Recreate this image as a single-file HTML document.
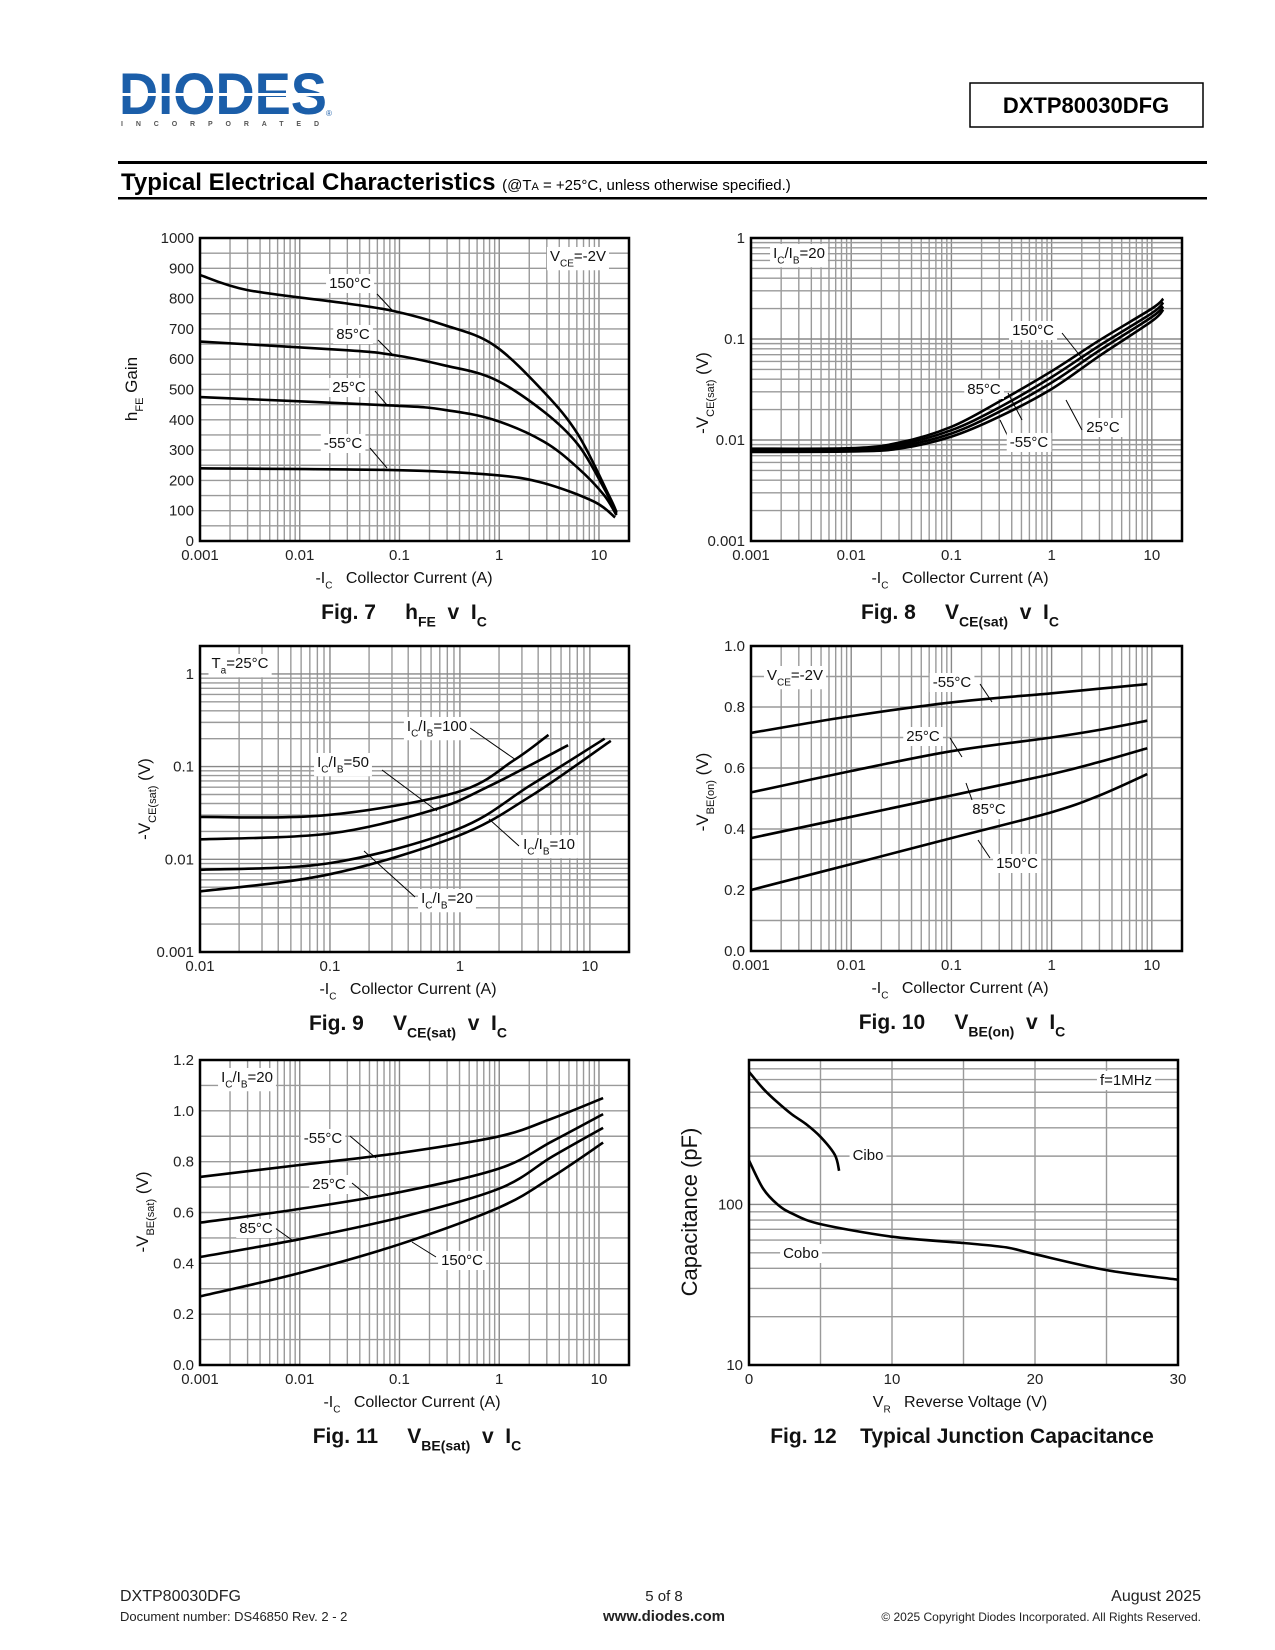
<!DOCTYPE html>
<html><head><meta charset="utf-8"><title>DXTP80030DFG Typical Electrical Characteristics</title>
<style>
html,body{margin:0;padding:0;background:#fff;}
svg{display:block;font-family:"Liberation Sans",Arial,sans-serif;}
text{white-space:pre;}
</style></head>
<body>
<svg id="page" width="1275" height="1650" viewBox="0 0 1275 1650" xmlns="http://www.w3.org/2000/svg">
  <g>
    <text x="119" y="114" font-size="58" font-weight="bold" fill="#1b5ea9" textLength="208" lengthAdjust="spacingAndGlyphs">DIODES</text>
    <rect x="118" y="93" width="212" height="3" fill="#fff"/>
    <text x="326" y="116" font-size="8" fill="#1b5ea9">®</text>
    <text x="121" y="126" font-size="7" font-weight="bold" fill="#555" textLength="198" lengthAdjust="spacing">INCORPORATED</text>
  </g>
  <g>
    <rect x="970" y="83" width="233" height="44" fill="none" stroke="#000" stroke-width="1.5"/>
    <text x="1086" y="113" font-size="22" font-weight="bold" text-anchor="middle">DXTP80030DFG</text>
  </g>
  <rect x="118" y="161" width="1089" height="3" fill="#000"/>
  <text x="121" y="190" font-size="24" font-weight="bold">Typical Electrical Characteristics <tspan font-size="15" font-weight="normal">(@T<tspan font-size="11">A</tspan> = +25°C, unless otherwise specified.)</tspan></text>
  <rect x="118" y="197" width="1089" height="2.5" fill="#000"/>
  <g id="charts"></g>
  <g fill="#222">
    <text x="120" y="1601" font-size="16">DXTP80030DFG</text>
    <text x="120" y="1621" font-size="13">Document number: DS46850 Rev. 2 - 2</text>
    <text x="664" y="1601" font-size="15" text-anchor="middle">5 of 8</text>
    <text x="664" y="1621" font-size="15" font-weight="bold" text-anchor="middle">www.diodes.com</text>
    <text x="1201" y="1601" font-size="16" text-anchor="end">August 2025</text>
    <text x="1201" y="1621" font-size="12" text-anchor="end">© 2025 Copyright Diodes Incorporated. All Rights Reserved.</text>
  </g>
</svg>
<script>
// ---------- Fig 7 data (hFE) ----------
const f7X150=[0.001,0.003,0.028,0.087,0.28,0.88,2.8,6.2,12.6,15];
const f7Y150=[878,828,785,759,713,647,492,350,150,95];
const f7X85=[0.001,0.028,0.087,0.28,0.88,2.8,6.2,11.2,15];
const f7Y85=[658,630,614,580,535,427,317,175,90];
const f7X25=[0.001,0.087,0.28,0.88,2.8,6.2,11.2,15];
const f7Y25=[475,447,433,400,328,240,152,85];
const f7X55=[0.001,0.087,0.88,2.8,8.9,14.5];
const f7Y55=[240,234,218,191,130,78];
// ---------- Fig 8 data (VCE(sat), IC/IB=20) ----------
const f8X=[0.001,0.01,0.03,0.1,0.3,1,3,10,13];
const f8Y150=[0.0082,0.0083,0.0094,0.0135,0.024,0.048,0.097,0.20,0.25];
const f8Y85=[0.0080,0.0081,0.0090,0.0125,0.021,0.042,0.086,0.18,0.23];
const f8Y25=[0.0078,0.0079,0.0086,0.0116,0.019,0.037,0.077,0.165,0.21];
const f8Y55=[0.0076,0.0077,0.0082,0.0108,0.017,0.032,0.068,0.15,0.195];
// ---------- Fig 9 data ----------
const f9X100=[0.01,0.095,0.95,2.6,4.8];
const f9Y100=[0.0286,0.030,0.053,0.117,0.22];
const f9X50=[0.01,0.1,0.62,1.7,6.8];
const f9Y50=[0.0164,0.019,0.034,0.062,0.17];
const f9X10=[0.01,0.1,0.95,3.5,13];
const f9Y10=[0.0077,0.0091,0.021,0.063,0.20];
const f9X20=[0.01,0.1,0.95,3.5,14.5];
const f9Y20=[0.0045,0.0069,0.0177,0.048,0.19];
// ---------- Fig 10 data (VBE(on)) ----------
const f10X=[0.001,0.01,0.1,1,3,9];
const f10Y55=[0.715,0.77,0.815,0.845,0.86,0.875];
const f10Y25=[0.52,0.59,0.655,0.70,0.725,0.755];
const f10Y85=[0.37,0.44,0.51,0.58,0.62,0.665];
const f10Y150=[0.20,0.285,0.37,0.455,0.51,0.58];
// ---------- Fig 11 data (VBE(sat)) ----------
const f11X=[0.001,0.01,0.1,1,3.4,11];
const f11Y55=[0.74,0.787,0.834,0.90,0.97,1.05];
const f11Y25=[0.56,0.614,0.68,0.773,0.88,0.987];
const f11Y85=[0.425,0.495,0.58,0.694,0.82,0.933];
const f11Y150=[0.27,0.362,0.475,0.62,0.74,0.875];
// ---------- Fig 12 data (capacitance) ----------
const f12XCobo=[0,1,2,3,5,10,15,18,20,25,30];
const f12YCobo=[188,125,100,88,75.5,63,57.5,54,49,39,34];
const f12XCibo=[0,1,2,3,4,5,6,6.3];
const f12YCibo=[670,525,432,364,316,264,204,162];
// ---------- tick labels ----------
const ticksDecadeA=["0.001","0.01","0.1","1","10"];
const ticksDecadeA9=["0.01","0.1","1","10"];
const ticksHfe=[0,100,200,300,400,500,600,700,800,900,1000];
const ticksLogV=["0.001","0.01","0.1","1"];
const ticksV10=["0.0","0.2","0.4","0.6","0.8","1.0"];
const ticksV11=["0.0","0.2","0.4","0.6","0.8","1.0","1.2"];
const ticksVr=[0,10,20,30];
const ticksCap=["10","100"];

const NS="http://www.w3.org/2000/svg";
const root=document.getElementById('charts');
function mk(tag,attrs,parent){const e=document.createElementNS(NS,tag);for(const k in attrs)e.setAttribute(k,attrs[k]);parent.appendChild(e);return e;}
function scale(ax){
  if(ax.type==='log'){const a=Math.log10(ax.min),b=Math.log10(ax.max);return v=>ax.p0+(Math.log10(v)-a)/(b-a)*(ax.p1-ax.p0);}
  return v=>ax.p0+(v-ax.min)/(ax.max-ax.min)*(ax.p1-ax.p0);
}
function gridVals(ax,step){
  const out=[];
  if(ax.type==='log'){
    for(let d=Math.floor(Math.log10(ax.min));d<=Math.ceil(Math.log10(ax.max));d++){
      for(let m=1;m<=9;m++){const v=m*Math.pow(10,d);if(v>ax.min*1.0001&&v<ax.max*0.9999)out.push([v,m===1]);}
    }
  } else {
    for(let v=ax.min+step;v<ax.max-1e-9;v+=step)out.push([v,false]);
  }
  return out;
}
function smoothPath(pts){
  let d='M'+pts[0][0].toFixed(1)+','+pts[0][1].toFixed(1);
  for(let i=0;i<pts.length-1;i++){
    const p0=pts[i-1]||pts[i],p1=pts[i],p2=pts[i+1],p3=pts[i+2]||p2;
    const c1=[p1[0]+(p2[0]-p0[0])/6,p1[1]+(p2[1]-p0[1])/6];
    const c2=[p2[0]-(p3[0]-p1[0])/6,p2[1]-(p3[1]-p1[1])/6];
    d+=' C'+c1[0].toFixed(1)+','+c1[1].toFixed(1)+' '+c2[0].toFixed(1)+','+c2[1].toFixed(1)+' '+p2[0].toFixed(1)+','+p2[1].toFixed(1);
  }
  return d;
}
function richText(parts,x,y,size,parent,anchor,bold,rotate){
  const t=mk('text',{x:x,y:y,'font-size':size,fill:'#111','text-anchor':anchor||'start'},parent);
  t.setAttribute('xml:space','preserve');
  if(bold)t.setAttribute('font-weight','bold');
  if(rotate)t.setAttribute('transform','rotate(-90 '+x+' '+y+')');
  parts.forEach(p=>{
    const s=document.createElementNS(NS,'tspan');
    if(typeof p==='string'){s.textContent=p;}
    else{s.textContent=p.sub;s.setAttribute('font-size',Math.round(size*0.65));s.setAttribute('dy',size*0.35);}
    t.appendChild(s);
    if(typeof p!=='string'){const r=document.createElementNS(NS,'tspan');r.setAttribute('dy',-size*0.35);r.textContent='\u200B';t.appendChild(r);}
  });
  return t;
}
function chart(cfg){
  const g=mk('g',{},root);
  
  
  const sx=scale(cfg.x),sy=scale(cfg.y);
  const gg=mk('g',{stroke:'#9a9a9a','stroke-width':1.4},g);
  
  
  gridVals(cfg.x,cfg.xstep).forEach(([v,maj])=>{
    const l=mk('line',{x1:sx(v),x2:sx(v),y1:cfg.y.p1,y2:cfg.y.p0,stroke:maj?'#888':'#9a9a9a'},gg);
    
    
  });
  gridVals(cfg.y,cfg.ystep).forEach(([v,maj])=>{
    const l=mk('line',{x1:cfg.x.p0,x2:cfg.x.p1,y1:sy(v),y2:sy(v),stroke:maj?'#888':'#9a9a9a'},gg);
    
    
  });
  cfg.xticks.forEach(t=>{
    const e=mk('text',{x:sx(+t),y:cfg.y.p0+19,'font-size':15,'text-anchor':'middle',fill:'#222'},g);
    e.textContent=t;
    
    
  });
  cfg.yticks.forEach(t=>{
    const e=mk('text',{x:cfg.x.p0-6,y:sy(+t)+5,'font-size':15,'text-anchor':'end',fill:'#222'},g);
    e.textContent=t;
    
    
  });
  (cfg.leaders||[]).forEach(L=>{
    const l=mk('line',{x1:L[0],y1:L[1],x2:L[2],y2:L[3],stroke:'#000','stroke-width':1},g);
    
    
  });
  cfg.series.forEach(s=>{
    const pts=s.x.map((v,i)=>[sx(v),sy(s.y[i])]);
    const p=mk('path',{d:smoothPath(pts),fill:'none',stroke:'#000','stroke-width':2.6,'stroke-linejoin':'round'},g);
    
    
  });
  (cfg.labels||[]).forEach(L=>{
    const t=richText(L.parts,L.x,L.y,15,g,'middle');
    const bb=t.getBBox();
    const r=document.createElementNS(NS,'rect');
    r.setAttribute('x',bb.x-3);r.setAttribute('y',bb.y-1);r.setAttribute('width',bb.width+6);r.setAttribute('height',bb.height+2);r.setAttribute('fill','#fff');
    g.insertBefore(r,t);
    
    
    
    
  });
  const fr=mk('rect',{x:cfg.x.p0,y:cfg.y.p1,width:cfg.x.p1-cfg.x.p0,height:cfg.y.p0-cfg.y.p1,fill:'none',stroke:'#000','stroke-width':2.5},g);
  
  
  const xt=richText(cfg.xtitle,cfg.cx,cfg.y.p0+42,16,g,'middle');
  
  
  const yt=richText(cfg.ytitle,cfg.ytx,cfg.yty,cfg.ytsize||17,g,'middle',false,true);
  
  
  const cp=richText(cfg.caption,cfg.capx,cfg.y.p0+78,21,g,'middle',true);
  
  
}
const icTitle=['-I',{sub:'C'},'   Collector Current (A)'];

chart({name:'fig7-hfe-chart',x:{type:'log',min:0.001,max:20,p0:200,p1:629},y:{type:'lin',min:0,max:1000,p0:541,p1:238},ystep:50,
  xticks:ticksDecadeA,yticks:ticksHfe,cx:404,xtitle:icTitle,ytx:137,yty:389,ytitle:['h',{sub:'FE'},' Gain'],capx:404,caption:['Fig. 7     h',{sub:'FE'},'  v  I',{sub:'C'}],
  series:[{name:'curve-150c',x:f7X150,y:f7Y150},{name:'curve-85c',x:f7X85,y:f7Y85},{name:'curve-25c',x:f7X25,y:f7Y25},{name:'curve-minus55c',x:f7X55,y:f7Y55}],
  leaders:[[377,294,392,310],[378,340,392,354],[375,391,387,405],[370,448,387,468]],
  labels:[{name:'label-150c',parts:['150°C'],x:350,y:288},{name:'label-85c',parts:['85°C'],x:353,y:339},{name:'label-25c',parts:['25°C'],x:349,y:392},{name:'label-minus55c',parts:['-55°C'],x:343,y:448},{name:'label-vce',parts:['V',{sub:'CE'},'=-2V'],x:578,y:261}]});

chart({name:'fig8-vcesat-chart',x:{type:'log',min:0.001,max:20,p0:751,p1:1182},y:{type:'log',min:0.001,max:1,p0:541,p1:238},
  xticks:ticksDecadeA,yticks:ticksLogV,cx:960,xtitle:icTitle,ytx:708,yty:393,ytitle:['-V',{sub:'CE(sat)'},' (V)'],capx:960,caption:['Fig. 8     V',{sub:'CE(sat)'},'  v  I',{sub:'C'}],
  series:[{name:'curve-150c',x:f8X,y:f8Y150},{name:'curve-85c',x:f8X,y:f8Y85},{name:'curve-25c',x:f8X,y:f8Y25},{name:'curve-minus55c',x:f8X,y:f8Y55}],
  leaders:[[1062,333,1085,362],[1008,393,1022,420],[1082,430,1066,400],[1012,445,1000,420]],
  labels:[{name:'label-150c',parts:['150°C'],x:1033,y:335},{name:'label-85c',parts:['85°C'],x:984,y:394},{name:'label-25c',parts:['25°C'],x:1103,y:432},{name:'label-minus55c',parts:['-55°C'],x:1029,y:447},{name:'label-ic-ib',parts:['I',{sub:'C'},'/I',{sub:'B'},'=20'],x:799,y:258}]});

chart({name:'fig9-vcesat-ratio-chart',x:{type:'log',min:0.01,max:20,p0:200,p1:629},y:{type:'log',min:0.001,max:2,p0:952,p1:646},
  xticks:ticksDecadeA9,yticks:ticksLogV,cx:408,xtitle:icTitle,ytx:150,yty:799,ytitle:['-V',{sub:'CE(sat)'},' (V)'],capx:408,caption:['Fig. 9     V',{sub:'CE(sat)'},'  v  I',{sub:'C'}],
  series:[{name:'curve-ic-ib-100',x:f9X100,y:f9Y100},{name:'curve-ic-ib-50',x:f9X50,y:f9Y50},{name:'curve-ic-ib-10',x:f9X10,y:f9Y10},{name:'curve-ic-ib-20',x:f9X20,y:f9Y20}],
  leaders:[[470,728,516,760],[382,770,437,811],[519,846,489,819],[415,897,364,851]],
  labels:[{name:'label-ic-ib-100',parts:['I',{sub:'C'},'/I',{sub:'B'},'=100'],x:437,y:731},{name:'label-ic-ib-50',parts:['I',{sub:'C'},'/I',{sub:'B'},'=50'],x:343,y:767},{name:'label-ic-ib-10',parts:['I',{sub:'C'},'/I',{sub:'B'},'=10'],x:549,y:849},{name:'label-ic-ib-20',parts:['I',{sub:'C'},'/I',{sub:'B'},'=20'],x:447,y:903},{name:'label-ta',parts:['T',{sub:'a'},'=25°C'],x:240,y:668}]});

chart({name:'fig10-vbeon-chart',x:{type:'log',min:0.001,max:20,p0:751,p1:1182},y:{type:'lin',min:0,max:1,p0:951,p1:646},ystep:0.1,
  xticks:ticksDecadeA,yticks:ticksV10,cx:960,xtitle:icTitle,ytx:708,yty:792,ytitle:['-V',{sub:'BE(on)'},' (V)'],capx:962,caption:['Fig. 10     V',{sub:'BE(on)'},'  v  I',{sub:'C'}],
  series:[{name:'curve-minus55c',x:f10X,y:f10Y55},{name:'curve-25c',x:f10X,y:f10Y25},{name:'curve-85c',x:f10X,y:f10Y85},{name:'curve-150c',x:f10X,y:f10Y150}],
  leaders:[[980,684,992,702],[950,738,962,757],[972,800,966,783],[990,858,978,840]],
  labels:[{name:'label-minus55c',parts:['-55°C'],x:952,y:687},{name:'label-25c',parts:['25°C'],x:923,y:741},{name:'label-85c',parts:['85°C'],x:989,y:814},{name:'label-150c',parts:['150°C'],x:1017,y:868},{name:'label-vce',parts:['V',{sub:'CE'},'=-2V'],x:795,y:680}]});

chart({name:'fig11-vbesat-chart',x:{type:'log',min:0.001,max:20,p0:200,p1:629},y:{type:'lin',min:0,max:1.2,p0:1365,p1:1060},ystep:0.1,
  xticks:ticksDecadeA,yticks:ticksV11,cx:412,xtitle:icTitle,ytx:148,yty:1212,ytitle:['-V',{sub:'BE(sat)'},' (V)'],capx:417,caption:['Fig. 11     V',{sub:'BE(sat)'},'  v  I',{sub:'C'}],
  series:[{name:'curve-minus55c',x:f11X,y:f11Y55},{name:'curve-25c',x:f11X,y:f11Y25},{name:'curve-85c',x:f11X,y:f11Y85},{name:'curve-150c',x:f11X,y:f11Y150}],
  leaders:[[350,1136,376,1158],[352,1183,368,1196],[275,1228,292,1240],[436,1257,412,1242]],
  labels:[{name:'label-minus55c',parts:['-55°C'],x:323,y:1143},{name:'label-25c',parts:['25°C'],x:329,y:1189},{name:'label-85c',parts:['85°C'],x:256,y:1233},{name:'label-150c',parts:['150°C'],x:462,y:1265},{name:'label-ic-ib',parts:['I',{sub:'C'},'/I',{sub:'B'},'=20'],x:247,y:1082}]});

chart({name:'fig12-capacitance-chart',x:{type:'lin',min:0,max:30,p0:749,p1:1178},y:{type:'log',min:10,max:794,p0:1365,p1:1060},xstep:5,
  xticks:ticksVr.map(String),yticks:ticksCap,cx:960,xtitle:['V',{sub:'R'},'   Reverse Voltage (V)'],ytx:697,yty:1212,ytsize:22,ytitle:['Capacitance (pF)'],capx:962,caption:['Fig. 12    Typical Junction Capacitance'],
  series:[{name:'curve-cobo',x:f12XCobo,y:f12YCobo},{name:'curve-cibo',x:f12XCibo,y:f12YCibo}],
  leaders:[],
  labels:[{name:'label-cibo',parts:['Cibo'],x:868,y:1160},{name:'label-cobo',parts:['Cobo'],x:801,y:1258},{name:'label-f',parts:['f=1MHz'],x:1126,y:1085}]});
</script>
</body></html>
